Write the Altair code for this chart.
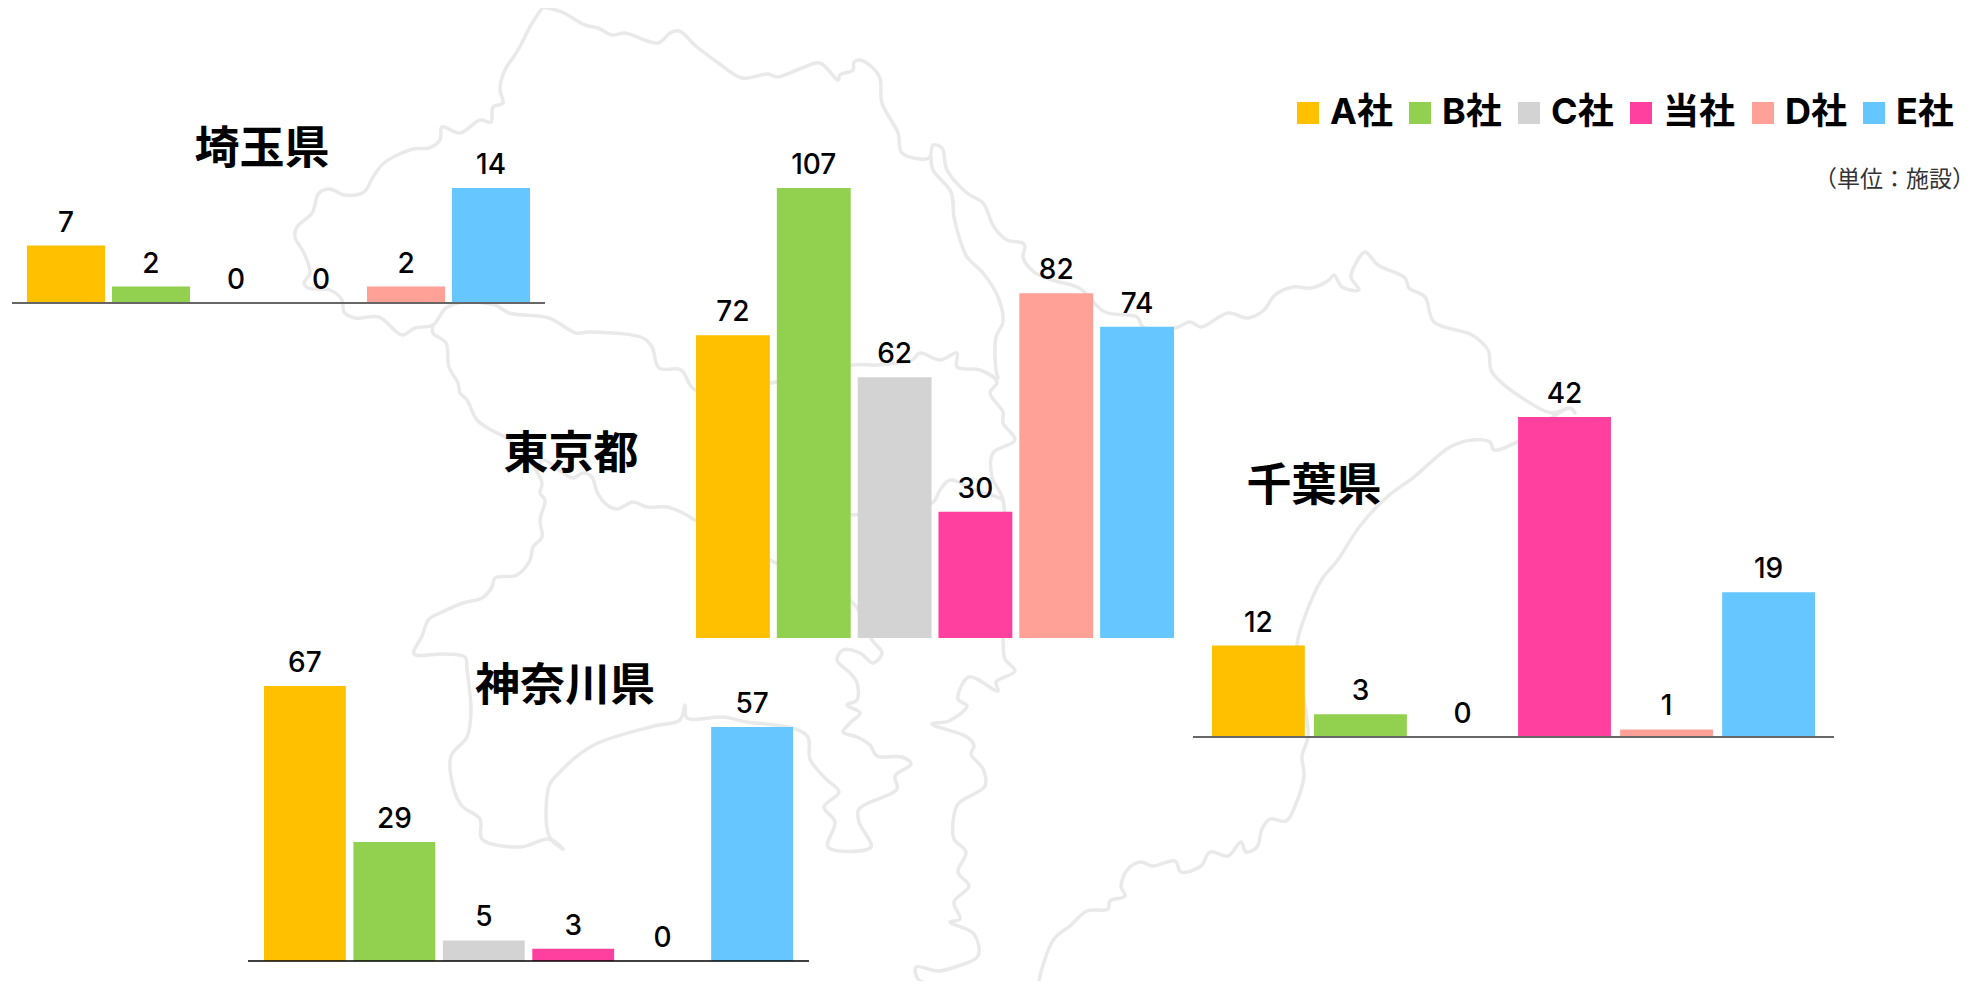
import altair as alt
import pandas as pd

companies = ["A社", "B社", "C社", "当社", "D社", "E社"]
colors = ["#FFC000", "#92D050", "#D3D3D3", "#FF409F", "#FFA197", "#66C6FF"]

saitama = [7, 2, 0, 0, 2, 14]
tokyo = [72, 107, 62, 30, 82, 74]
chiba = [12, 3, 0, 42, 1, 19]
kanagawa = [67, 29, 5, 3, 0, 57]

map_outer = [(543,7),(531,25),(518,50),(504,72),(500,90),(503,103),(493,107),(491,122),(480,120),(460,133),(442,127),(440,140),(429,148),(413,149),(384,163),(373,177),(364,192),(344,195),(330,189),(319,193),(312,213),(297,227),(295,237),(304,253),(310,273),(304,283),(308,288),(330,290),(342,300),(344,312),(355,318),(379,317),(402,335),(415,328),(433,325),(446,308),(464,302),(495,305),(509,313),(549,318),(576,333),(589,332),(643,338),(652,347),(659,368),(681,370),(695,390),(760,385),(851,365),(878,365),(912,360),(920,353),(940,360),(957,353),(957,367),(980,370),(997,382),(990,393),(1003,412),(1003,423),(1015,440),(993,453),(992,477),(1003,500),(1003,639),(1005,659),(1015,671),(996,682),(998,691),(969,677),(958,699),(967,706),(949,721),(932,724),(967,737),(974,746),(971,754),(983,769),(985,786),(958,804),(953,822),(954,839),(966,852),(958,872),(969,886),(954,902),(960,919),(950,922),(974,934),(978,956),(958,966),(938,971),(916,967),(918,979),(945,989)]
map_east = [(1038,989),(1041,972),(1054,939),(1070,926),(1087,911),(1108,909),(1110,901),(1125,896),(1121,886),(1128,869),(1141,862),(1152,866),(1175,861),(1181,872),(1201,866),(1210,852),(1228,856),(1241,842),(1246,852),(1257,847),(1262,829),(1270,819),(1286,821),(1295,806),(1304,776),(1302,756),(1308,736),(1297,646),(1304,619),(1322,579),(1337,561),(1360,526),(1387,497),(1414,477),(1450,447),(1472,440),(1490,442),(1494,450),(1517,442),(1570,408),(1575,413),(1570,408),(1552,413),(1530,403),(1492,372),(1488,350),(1472,335),(1434,322),(1425,297),(1409,288),(1405,278),(1378,265),(1365,252),(1356,263),(1351,277),(1359,290),(1342,287),(1334,275),(1329,280),(1311,288),(1293,287),(1275,295),(1264,310),(1248,318),(1228,313),(1201,327),(1190,322),(1175,328),(1143,327),(1137,317),(1105,312),(1079,288),(1052,280),(1034,272),(1023,257),(1025,247),(1023,243),(1007,240),(994,227),(983,203),(967,193),(947,170),(942,148),(933,145),(929,158),(902,153),(898,133),(882,103),(880,78),(873,68),(860,60),(854,62),(853,70),(840,75),(838,80),(820,63),(802,68),(777,77),(768,74),(742,78),(717,62),(697,47),(679,31),(670,33),(658,43),(625,33),(612,35),(598,28),(585,25),(562,12),(543,7)]
map_river = [(931,157),(933,170),(951,192),(954,217),(960,240),(967,257),(983,273),(998,297),(1003,322),(996,337),(996,370),(998,378)]
map_tama = [(433,325),(433,333),(446,343),(449,367),(458,383),(460,393),(467,400),(477,420),(495,432),(507,438),(525,455),(537,472),(542,483),(540,493),(545,500),(540,520),(542,537),(533,547),(530,560),(517,575),(495,578),(492,587),(482,598),(463,603),(440,613),(429,619),(422,636),(414,654),(444,654),(465,657),(467,670),(471,712),(467,737),(451,756),(453,786),(462,806),(480,819),(482,839),(520,847),(549,839),(563,849)]
map_south = [(537,472),(543,460),(563,473),(573,478),(583,473),(592,477),(597,492),(607,505),(617,509),(633,502),(647,507),(667,507),(683,513),(695,520),(770,560),(853,603),(872,640),(882,653),(873,663),(860,653),(843,650),(837,660),(850,673),(857,683),(857,700),(847,705),(860,713),(850,723),(843,732),(857,737),(870,745),(877,756),(902,757),(911,764),(895,776),(897,789),(859,809),(859,822),(871,847),(828,847),(835,822),(824,807),(839,792),(826,779),(810,759),(808,737),(793,728),(747,722),(723,717),(687,718),(685,705),(680,720),(654,726),(592,746),(556,776),(549,786),(549,836),(563,849)]
map_bay = [(851,515),(932,503),(940,490),(950,480),(975,490),(997,497),(1003,500)]
map_segments = {"outer": map_outer, "east": map_east, "river": map_river, "tama": map_tama, "south": map_south, "bay": map_bay}

OFF = 8
W, H = 1970, 973
FONT = "Inter, Noto Sans CJK JP"


def shift(a, b):
    return [a - OFF, b - OFF]


rows = []
for name, pts in map_segments.items():
    for i, (px, py) in enumerate(pts):
        rows.append({"seg": name, "i": i, "px": px, "py": py})

map_layer = alt.Chart(pd.DataFrame(rows)).mark_line(
    color="#E9E9E9", strokeWidth=3.5, strokeJoin="round", strokeCap="round", clip=True, interpolate="catmull-rom"
).encode(
    x=alt.X("px:Q", scale=alt.Scale(domain=[0, 1986], range=shift(0, 1986)), axis=None),
    y=alt.Y("py:Q", scale=alt.Scale(domain=[0, 989], range=shift(0, 989)), axis=None),
    detail="seg:N",
    order="i:Q",
)

color_scale = alt.Scale(domain=companies, range=colors)
legend = alt.Legend(
    orient="none", legendX=1282, legendY=87, direction="horizontal", columns=6, title=None,
    symbolType="square", symbolSize=484, symbolStrokeWidth=0, symbolOpacity=1,
    labelFont=FONT, labelFontSize=36, labelFontWeight="bold", labelColor="#000000",
    labelOffset=4, columnPadding=9, labelLimit=120, padding=0,
)


def panel(values, xr, yr, pin, pout, axis=None):
    df = pd.DataFrame({"company": companies, "value": values})
    xs = alt.Scale(type="band", domain=companies, range=shift(*xr), paddingInner=pin, paddingOuter=pout)
    ys = alt.Scale(domain=[0, max(values)], range=shift(*yr))
    x = alt.X("company:N", scale=xs, axis=None, sort=None)
    y = alt.Y("value:Q", scale=ys, axis=None, stack=False)
    bars = alt.Chart(df).mark_bar(cornerRadius=0).encode(
        x=x, y=y,
        color=alt.Color("company:N", scale=color_scale, sort=None, legend=legend),
    )
    labels = alt.Chart(df).mark_text(
        font=FONT, fontSize=28, fontWeight=500, color="#000000", align="center", baseline="alphabetic", dy=-14
    ).encode(x=x, y=y, text="value:Q")
    out = [bars, labels]
    if axis:
        rule = alt.Chart(pd.DataFrame({"value": [0]})).mark_rule(color=axis[0], strokeWidth=axis[1]).encode(
            x=alt.value(xr[0] - OFF), x2=alt.value(xr[1] - OFF), y=alt.Y("value:Q", scale=ys, axis=None)
        )
        out.append(rule)
    return out


def note(text, px, py, size, weight="bold", color="#000000", align="center"):
    return alt.Chart(pd.DataFrame({"t": [text]})).mark_text(
        font=FONT, fontSize=size, fontWeight=weight, color=color, align=align, baseline="middle"
    ).encode(x=alt.value(px - OFF), y=alt.value(py - OFF), text="t:N")


layers = [map_layer]
layers += panel(saitama, (12, 545), (303, 188), 0.082, 0.176, axis=("#666666", 2))
layers += panel(tokyo, (696, 1174), (638, 188), 0.086, 0.0)
layers += panel(chiba, (1193, 1834), (737, 417), 0.09, 0.186, axis=("#666666", 2))
layers += panel(kanagawa, (248, 809), (961, 686), 0.085, 0.179, axis=("#000000", 1.5))
layers += [
    note("埼玉県", 262, 150, 45),
    note("東京都", 571, 455, 45),
    note("千葉県", 1314, 487, 45),
    note("神奈川県", 565, 687, 45),
    note("（単位：施設）", 1975, 180, 23, weight="normal", color="#333333", align="right"),
]

chart = alt.layer(*layers).resolve_scale(x="independent", y="independent", color="shared").properties(
    width=W, height=H, padding=0, background="#FFFFFF"
).configure_view(stroke=None)

chart.save("out.html", embed_options={"renderer": "svg", "actions": False})
